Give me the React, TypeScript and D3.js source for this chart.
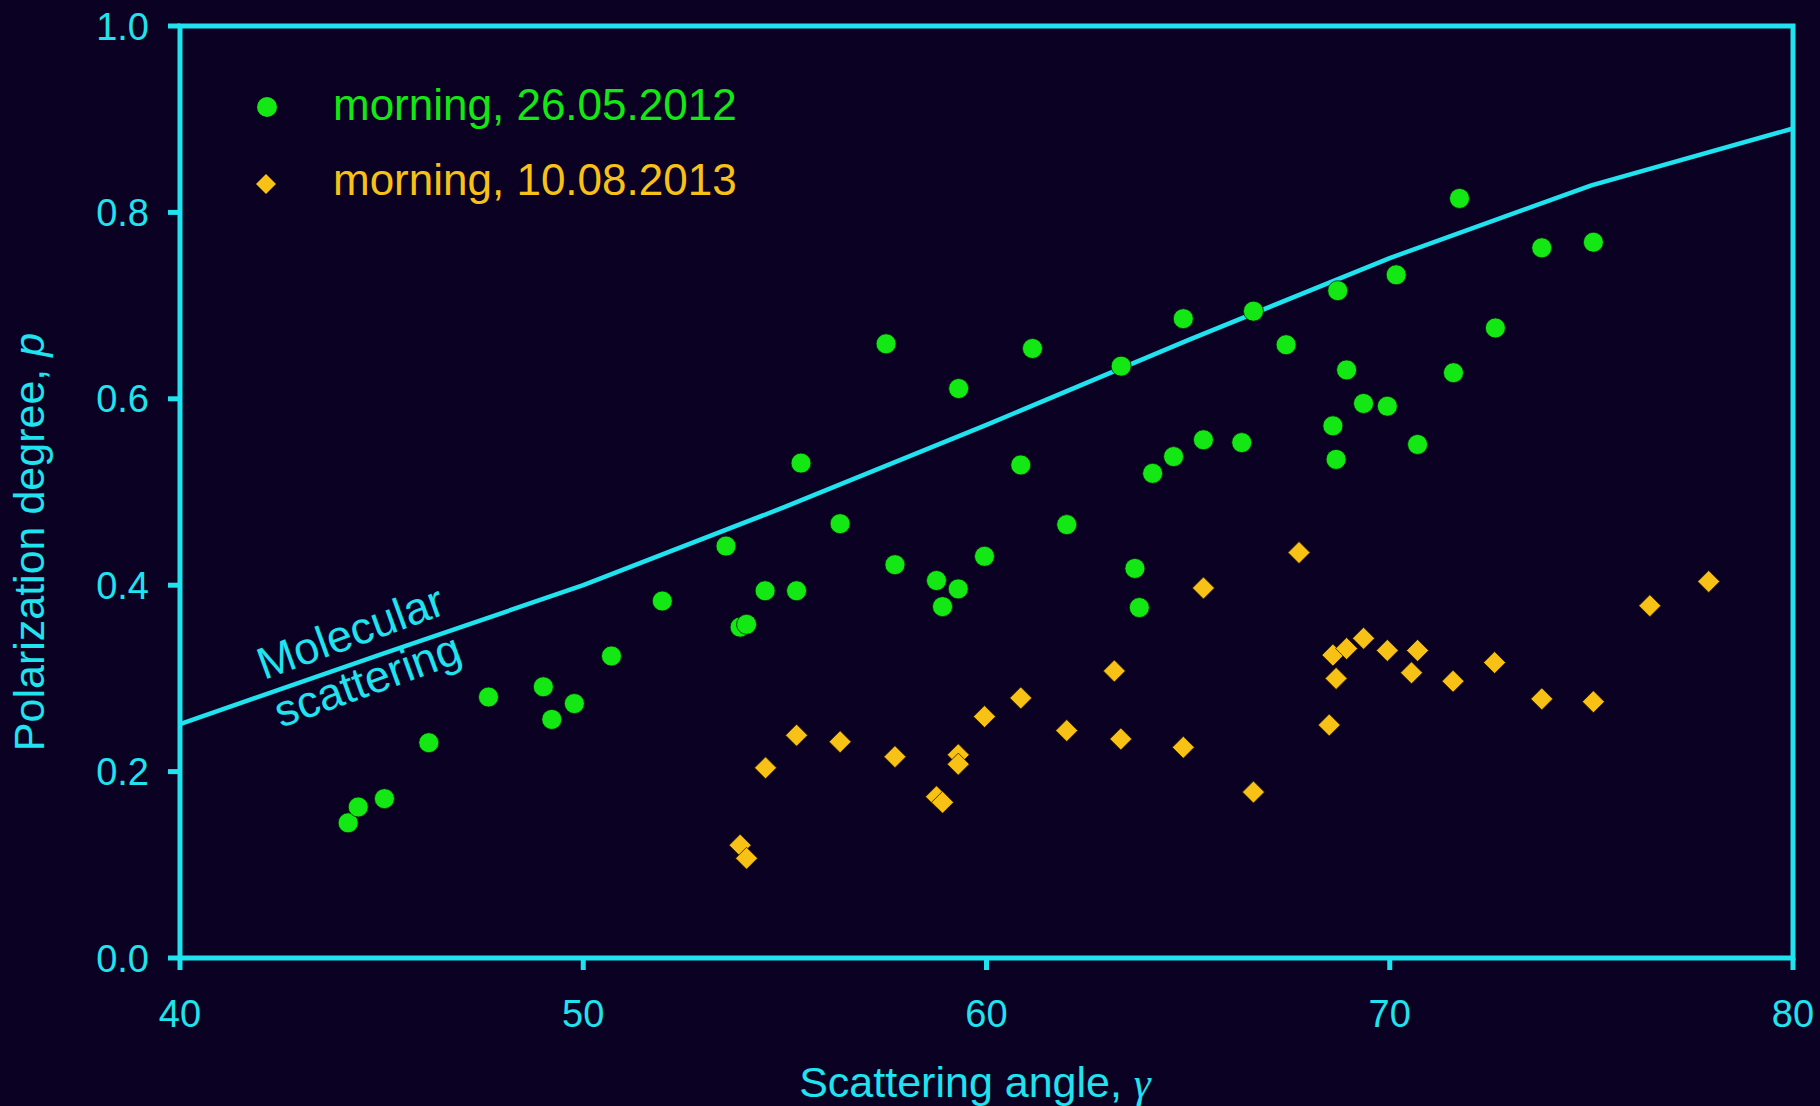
import React from "react";
import * as d3 from "d3";

// Morning of 26.05.2012: scattering angle (deg) and polarization degree
const mayAngle = [
  44.17, 44.42, 45.07, 46.17, 47.65, 49.01, 49.22, 49.78, 50.7, 51.96,
  53.54, 53.89, 54.05, 54.51, 55.29, 55.4, 56.37, 57.51, 57.73, 58.76,
  58.91, 59.31, 59.3, 59.95, 60.85, 61.14, 61.99, 63.34, 63.68, 63.79,
  64.12, 64.64, 64.88, 65.38, 66.33, 66.62, 67.43, 68.59, 68.71, 68.67,
  68.93, 69.35, 69.94, 70.16, 70.69, 71.58, 71.73, 72.62, 73.77, 75.05,
];
const mayP = [
  0.145, 0.162, 0.171, 0.231, 0.28, 0.291, 0.256, 0.273, 0.324, 0.383,
  0.442, 0.355, 0.358, 0.394, 0.394, 0.531, 0.466, 0.659, 0.422, 0.405,
  0.377, 0.611, 0.396, 0.431, 0.529, 0.654, 0.465, 0.635, 0.418, 0.376,
  0.52, 0.538, 0.686, 0.556, 0.553, 0.694, 0.658, 0.571, 0.716, 0.535,
  0.631, 0.595, 0.592, 0.733, 0.551, 0.628, 0.815, 0.676, 0.762, 0.768,
];

// Morning of 10.08.2013
const augAngle = [
  53.89, 54.05, 54.52, 55.29, 56.37, 57.73, 58.76, 58.91, 59.3, 59.3,
  59.95, 60.85, 61.99, 63.17, 63.33, 64.88, 65.38, 66.62, 67.75, 68.5,
  68.59, 68.67, 68.93, 69.35, 69.94, 70.54, 70.69, 71.57, 72.6, 73.77,
  75.05, 76.45, 77.91,
];
const augP = [
  0.121, 0.107, 0.204, 0.239, 0.232, 0.216, 0.173, 0.167, 0.218, 0.208,
  0.259, 0.279, 0.244, 0.308, 0.235, 0.226, 0.397, 0.178, 0.435, 0.25,
  0.325, 0.3, 0.332, 0.343, 0.33, 0.306, 0.33, 0.297, 0.317, 0.278,
  0.275, 0.378, 0.404,
];

// Molecular (Rayleigh) scattering curve
const molecularAngle = [40, 45, 50, 55, 60, 65, 70, 75, 80];
const molecularP = [0.251, 0.326, 0.4, 0.484, 0.572, 0.663, 0.751, 0.829, 0.89];

const xTicks = [40, 50, 60, 70, 80];
const yTicks = [0, 0.2, 0.4, 0.6, 0.8, 1.0];

const seriesLabels = ["morning, 26.05.2012", "morning, 10.08.2013"];

const W = 1820;
const H = 1106;
const BG = "#0b0223";
const CYAN = "#1fe3ee";
const GREEN = "#14e814";
const YELLOW = "#f7c215";
const FONT = "'Liberation Sans', Arial, Helvetica, sans-serif";

export default function App() {
  const x = d3.scaleLinear().domain([40, 80]).range([180, 1793]);
  const y = d3.scaleLinear().domain([0, 1]).range([958, 26]);

  const line = d3
    .line<number>()
    .x((_, i) => x(molecularAngle[i]))
    .y((d) => y(d));

  const diamond = (cx: number, cy: number, r: number) =>
    `M${cx},${cy - r}L${cx + r},${cy}L${cx},${cy + r}L${cx - r},${cy}Z`;

  const [x0, x1] = x.range();
  const [yb, yt] = y.range();

  return (
    <svg
      width={W}
      height={H}
      style={{ position: "absolute", left: 0, top: 0, display: "block" }}
      fontFamily={FONT}
    >
      <rect x={0} y={0} width={W} height={H} fill={BG} />

      {/* molecular scattering curve */}
      <path d={line(molecularP) || ""} fill="none" stroke={CYAN} strokeWidth={4.5} strokeLinejoin="round" />

      {/* observations */}
      {mayAngle.map((a, i) => (
        <circle key={`g${i}`} cx={x(a)} cy={y(mayP[i])} r={10} fill={GREEN} stroke="#05200a" strokeWidth={0.8} />
      ))}
      {augAngle.map((a, i) => (
        <path key={`y${i}`} d={diamond(x(a), y(augP[i]), 11)} fill={YELLOW} stroke="#2a1a00" strokeWidth={0.8} />
      ))}

      {/* frame */}
      <rect x={x0} y={yt} width={x1 - x0} height={yb - yt} fill="none" stroke={CYAN} strokeWidth={5} />

      {/* x ticks */}
      {xTicks.map((t) => (
        <g key={`xt${t}`}>
          <line x1={x(t)} x2={x(t)} y1={yb} y2={yb + 12} stroke={CYAN} strokeWidth={5} />
          <text x={x(t)} y={1027} textAnchor="middle" fill={CYAN} fontSize={38}>
            {t}
          </text>
        </g>
      ))}

      {/* y ticks */}
      {yTicks.map((t) => (
        <g key={`yt${t}`}>
          <line x1={x0 - 12} x2={x0} y1={y(t)} y2={y(t)} stroke={CYAN} strokeWidth={5} />
          <text x={149} y={y(t) + 13.5} textAnchor="end" fill={CYAN} fontSize={38}>
            {t.toFixed(1)}
          </text>
        </g>
      ))}

      {/* axis titles */}
      <text x={975} y={1097} textAnchor="middle" fill={CYAN} fontSize={43}>
        Scattering angle,{" "}
        <tspan fontFamily="'Liberation Serif', 'Times New Roman', serif" fontStyle="italic">γ</tspan>
      </text>
      <text
        transform="translate(44,542) rotate(-90)"
        textAnchor="middle"
        fill={CYAN}
        fontSize={43}
      >
        Polarization degree, <tspan fontStyle="italic">p</tspan>
      </text>

      {/* curve label */}
      <text transform="translate(264,680) rotate(-20)" fill={CYAN} fontSize={45}>
        Molecular
      </text>
      <text transform="translate(281,728) rotate(-20)" fill={CYAN} fontSize={45}>
        scattering
      </text>

      {/* legend */}
      <circle cx={267} cy={107} r={10} fill={GREEN} />
      <text x={333} y={120} fill={GREEN} fontSize={44}>
        {seriesLabels[0]}
      </text>
      <path d={diamond(266, 184, 10)} fill={YELLOW} />
      <text x={333} y={195} fill={YELLOW} fontSize={44}>
        {seriesLabels[1]}
      </text>
    </svg>
  );
}
